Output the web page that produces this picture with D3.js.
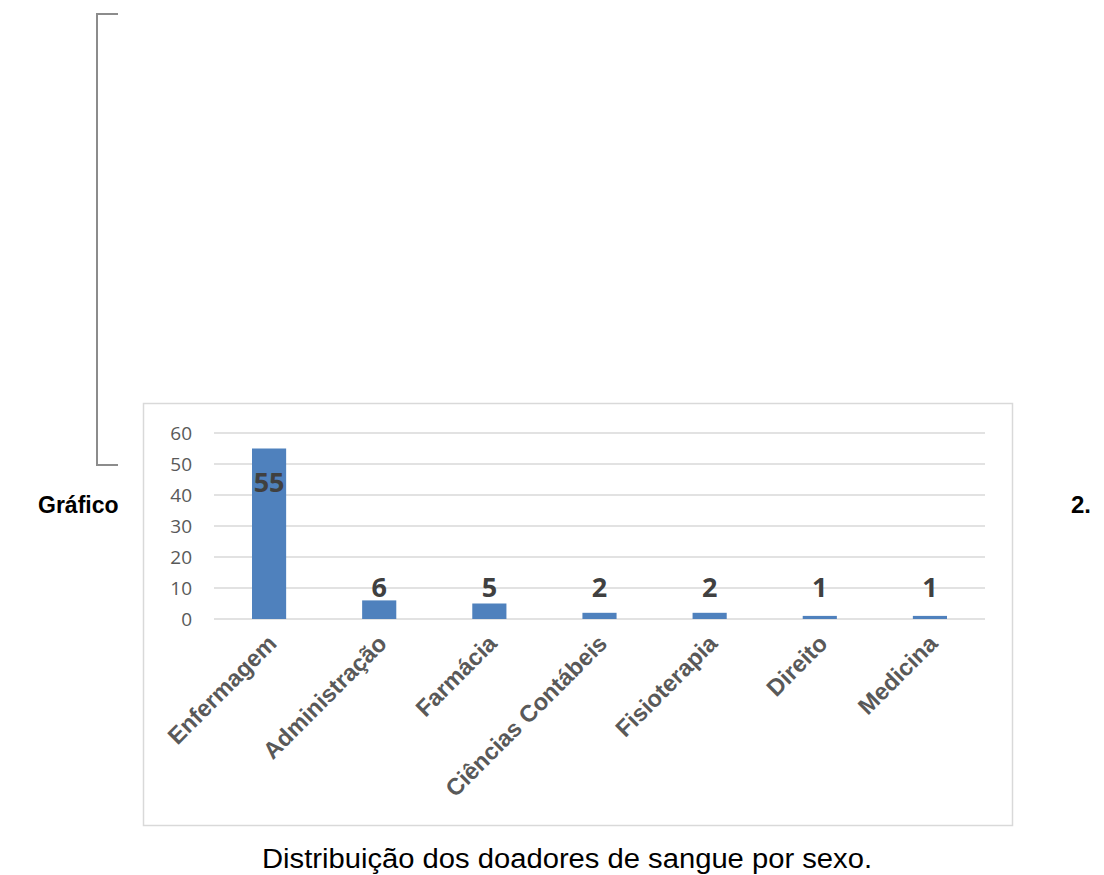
<!DOCTYPE html>
<html>
<head>
<meta charset="utf-8">
<script src="https://cdn.jsdelivr.net/npm/d3@7"></script>
<style>
  body { margin: 0; background: #fff; }
  svg { display: block; }
</style>
</head>
<body>
<svg id="chart" width="1104" height="875"></svg>
<script>
// data
const courses = ["Enfermagem", "Administração", "Farmácia", "Ciências Contábeis", "Fisioterapia", "Direito", "Medicina"];
const donors = [55, 6, 5, 2, 2, 1, 1];
const yTicks = [0, 10, 20, 30, 40, 50, 60];

const svg = d3.select("#chart");

// bracket on the left (page decoration)
svg.append("path")
  .attr("d", "M118,14 H97 V465 H118")
  .attr("fill", "none")
  .attr("stroke", "#8c8c8c")
  .attr("stroke-width", 2);

// chart frame
svg.append("rect")
  .attr("x", 143.5).attr("y", 403.5)
  .attr("width", 869).attr("height", 422)
  .attr("fill", "#fff")
  .attr("stroke", "#d9d9d9")
  .attr("stroke-width", 1.5);

const x = d3.scaleBand().domain(courses).range([214, 985]).paddingInner(0.69).paddingOuter(0.345);
const y = d3.scaleLinear().domain([0, 60]).range([619, 433]);

// gridlines
svg.append("g")
  .selectAll("line")
  .data(yTicks)
  .join("line")
  .attr("x1", 214).attr("x2", 985)
  .attr("y1", (d) => y(d)).attr("y2", (d) => y(d))
  .attr("stroke", "#d9d9d9")
  .attr("stroke-width", 1.3);

// y axis labels
const yAxis = svg.append("g")
  .attr("transform", "translate(192,0)")
  .call(d3.axisLeft(y).tickValues(yTicks).tickSize(0).tickPadding(0));
yAxis.select(".domain").remove();
yAxis.selectAll("text")
  .attr("fill", "#595959")
  .style("font-family", "'Open Sans', sans-serif")
  .style("font-size", "19px");

// bars
svg.append("g")
  .selectAll("rect")
  .data(donors)
  .join("rect")
  .attr("x", (d, i) => x(courses[i]))
  .attr("y", (d) => y(d))
  .attr("width", x.bandwidth())
  .attr("height", (d) => y(0) - y(d))
  .attr("fill", "#4f81bd");

// value labels (the tallest one sits inside the bar, short ones share a baseline)
svg.append("g")
  .selectAll("text")
  .data(donors)
  .join("text")
  .attr("x", (d, i) => x(courses[i]) + x.bandwidth() / 2)
  .attr("y", (d) => (d > 50 ? y(d) + 43 : Math.min(y(d), y(0) - 20) - 2))
  .attr("text-anchor", "middle")
  .attr("fill", "#404040")
  .style("font-family", "'Open Sans', sans-serif")
  .style("font-weight", "bold")
  .style("font-size", "27px")
  .text((d) => d);

// category labels, rotated
const xAxis = svg.append("g")
  .attr("transform", "translate(0,619)")
  .call(d3.axisBottom(x).tickSize(0).tickPadding(0));
xAxis.select(".domain").remove();
xAxis.selectAll("text")
  .attr("text-anchor", "end")
  .attr("dy", null)
  .attr("transform", "translate(9,26) rotate(-45)")
  .attr("fill", "#595959")
  .style("font-family", "'Liberation Sans', Arial, sans-serif")
  .style("font-weight", "bold")
  .style("font-size", "23.5px");

// surrounding document text
svg.append("text")
  .attr("x", 38).attr("y", 513)
  .style("font-family", "'Liberation Sans', Arial, sans-serif")
  .style("font-weight", "bold")
  .style("font-size", "23px")
  .text("Gráfico");

svg.append("text")
  .attr("x", 1091).attr("y", 513)
  .attr("text-anchor", "end")
  .style("font-family", "'Liberation Sans', Arial, sans-serif")
  .style("font-weight", "bold")
  .style("font-size", "24px")
  .text("2.");

svg.append("text")
  .attr("x", 262).attr("y", 868)
  .attr("textLength", 610)
  .attr("lengthAdjust", "spacingAndGlyphs")
  .style("font-family", "'Liberation Sans', Arial, sans-serif")
  .style("font-size", "27px")
  .text("Distribuição dos doadores de sangue por sexo.");
</script>
</body>
</html>
